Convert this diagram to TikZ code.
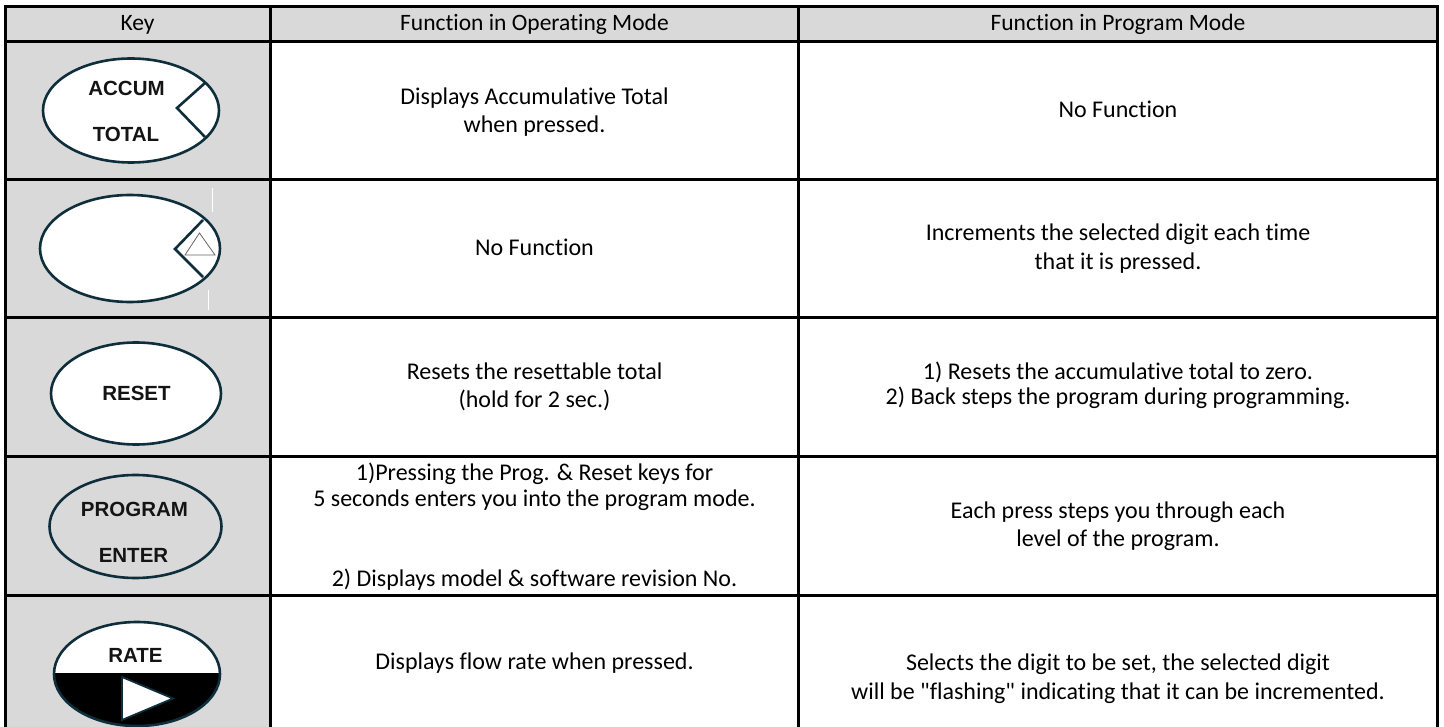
\documentclass[tikz,border=0pt]{standalone}
\usepackage{fontspec}
\setmainfont{Carlito}[Ligatures={TeXOff,CommonOff}]
\newfontfamily\keyfont{Liberation Sans}
\definecolor{cellgray}{HTML}{D9D9D9}
\definecolor{keyline}{HTML}{0E2E3C}
\definecolor{keytext}{HTML}{141414}
\begin{document}
\begin{tikzpicture}[x=1pt,y=-1pt,
  body/.style={anchor=base, inner sep=0pt, text=black, font=\fontsize{24}{28}\selectfont},
  head/.style={anchor=base, inner sep=0pt, text=black, font=\fontsize{23.5}{26}\selectfont},
  keylabel/.style={anchor=base, inner sep=0pt, text=keytext, font=\keyfont\bfseries\fontsize{20.5}{23}\selectfont},
  gridline/.style={line width=3pt, black, line cap=rect},
  keyoutline/.style={draw=keyline, line width=2.6pt},
  notch/.style={draw=keyline, line width=2.6pt, line join=miter},
]
\useasboundingbox (0,0) rectangle (1444,727);
\fill[white] (0,0) rectangle (1444,727);
% grey cells
\fill[cellgray] (5,7) rectangle (1437.5,41.5);
\fill[cellgray] (5,41.5) rectangle (270.5,727);

% ---------- key shapes ----------
% ACCUM TOTAL
\draw[keyoutline, fill=white] (131,110.5) ellipse [x radius=88, y radius=52];
\draw[notch] (205,83) -- (177,108) -- (205,137);
\node[keylabel] (kaccum) at (126.5,95.5) {ACCUM};
\node[keylabel] (ktotal) at (126,141.5) {TOTAL};

% UP key
\draw[keyoutline, fill=white] (130,248.5) ellipse [x radius=90, y radius=53.5];
\draw[notch] (203,220) -- (175,249) -- (203,277);
\draw[draw=gray!80!black, line width=0.8pt, fill=white] (185,255) -- (215,255) -- (199.5,233) -- cycle;
\draw[white, line width=1pt] (212,188) -- (212,212);
\draw[white, line width=1pt] (208,290) -- (208,310);

% RESET
\draw[keyoutline, fill=white] (136,393.5) ellipse [x radius=85, y radius=51];
\node[keylabel] (kreset) at (136.5,400) {RESET};

% PROGRAM ENTER
\draw[keyoutline] (135.5,526.5) ellipse [x radius=86, y radius=51.5];
\node[keylabel] (kprog) at (134.5,516.5) {PROGRAM};
\node[keylabel] (kenter) at (133.5,562) {ENTER};

% RATE
\fill[white] (137,674) ellipse [x radius=83, y radius=52];
\begin{scope}
  \clip (137,674) ellipse [x radius=83, y radius=52];
  \fill[black] (40,673) rectangle (240,740);
\end{scope}
\draw[keyoutline] (137,674) ellipse [x radius=83, y radius=52];
\draw[draw=keyline, line width=1.8pt, fill=white, line join=miter] (122,677) -- (173,698.5) -- (122,720) -- cycle;
\node[keylabel] (krate) at (135.5,662) {RATE};

% ---------- grid ----------
\foreach \yy in {7,41.5,180,318,456,595} {
  \draw[gridline] (5,\yy) -- (1437.5,\yy);
}
\foreach \xx in {5,270.5,798.5,1437.5} {
  \draw[gridline] (\xx,7) -- (\xx,730);
}

% ---------- header ----------
\node[head] (hkey) at (137.5,31) {Key};
\node[head] (hop) at (534.5,31) {Function in Operating Mode};
\node[head] (hpr) at (1118,31) {Function in Program Mode};

% ---------- row 1 ----------
\node[body] (r1a) at (534.5,104.5) {Displays Accumulative Total};
\node[body] (r1b) at (534.5,132.5) {when pressed.};
\node[body] (r1c) at (1118,117.5) {No Function};

% ---------- row 2 ----------
\node[body] (r2a) at (534.5,255.5) {No Function};
\node[body] (r2b) at (1118,240.5) {Increments the selected digit each time};
\node[body] (r2c) at (1118,269.5) {that it is pressed.};

% ---------- row 3 ----------
\node[body] (r3a) at (534.5,379.5) {Resets the resettable total};
\node[body] (r3b) at (534.5,407) {(hold for 2 sec.)};
\node[body] (r3c) at (1118,379.5) {1) Resets the accumulative total to zero.};
\node[body] (r3d) at (1118,404.5) {2) Back steps the program during programming.};

% ---------- row 4 ----------
\node[body] (r4a) at (534.5,480) {1)Pressing the Prog. \& Reset keys for};
\node[body] (r4b) at (534.5,506) {5 seconds enters you into the program mode.};
\node[body] (r4c) at (534.5,586) {2) Displays model \& software revision No.};
\node[body] (r4d) at (1118,518.5) {Each press steps you through each};
\node[body] (r4e) at (1118,546.5) {level of the program.};

% ---------- row 5 ----------
\node[body] (r5a) at (534.5,669.5) {Displays flow rate when pressed.};
\node[body] (r5b) at (1118,670) {Selects the digit to be set, the selected digit};
\node[body] (r5c) at (1118,699) {will be "flashing" indicating that it can be incremented.};
\end{tikzpicture}
\end{document}
